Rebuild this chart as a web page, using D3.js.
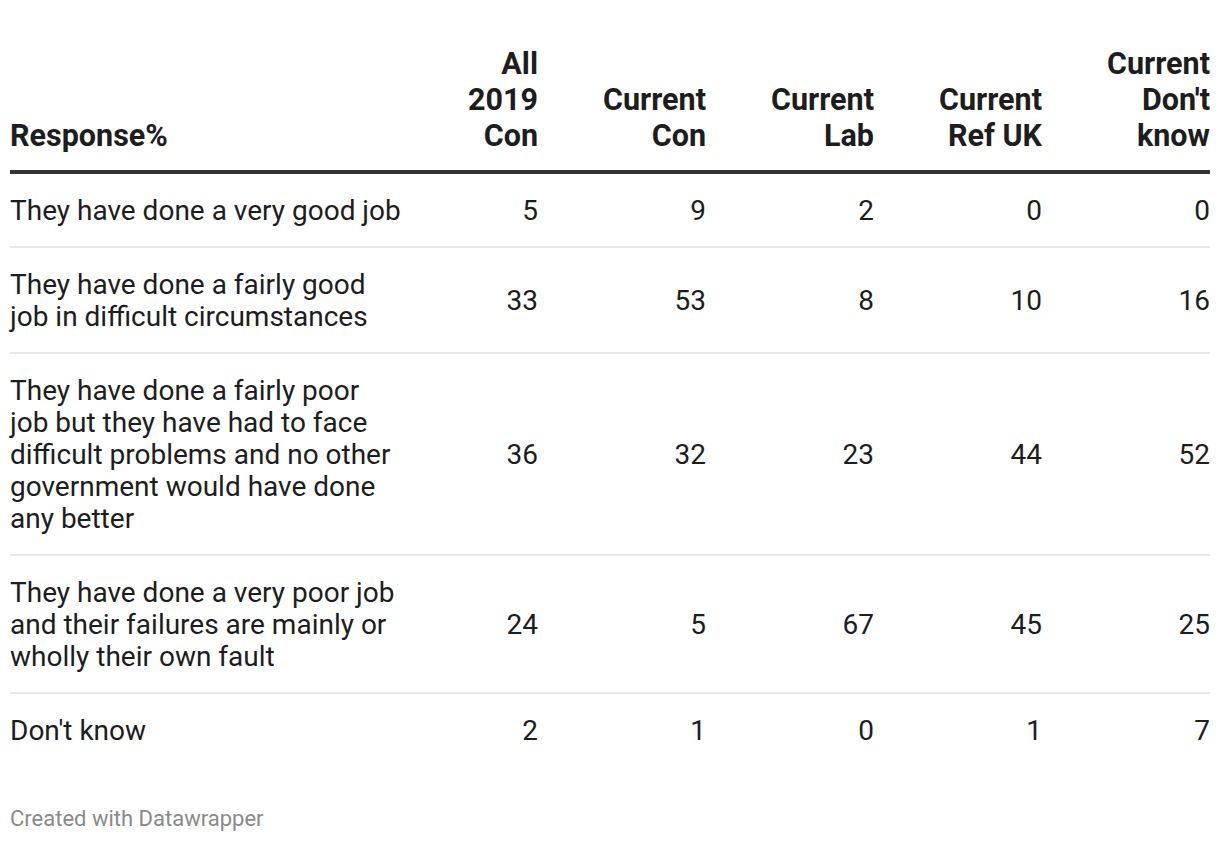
<!DOCTYPE html>
<html><head><meta charset="utf-8">
<script src="https://cdn.jsdelivr.net/npm/d3@7"></script>
<style>
html,body{margin:0;padding:0;background:#fff;}
svg{display:block;font-family:Roboto,sans-serif;}
</style></head>
<body><svg id="c" width="1220" height="842"></svg>
<script>
const columns = [["All","2019","Con"],["Current","Con"],["Current","Lab"],["Current","Ref UK"],["Current","Don't","know"]];
const headerFirst = "Response%";
const responses = [
  ["They have done a very good job"],
  ["They have done a fairly good","job in difficult circumstances"],
  ["They have done a fairly poor","job but they have had to face","difficult problems and no other","government would have done","any better"],
  ["They have done a very poor job","and their failures are mainly or","wholly their own fault"],
  ["Don't know"]
];
const all2019Con   = [5,33,36,24,2];
const currentCon   = [9,53,32,5,1];
const currentLab   = [2,8,23,67,0];
const currentRefUK = [0,10,44,45,1];
const currentDK    = [0,16,52,25,7];
const series = [all2019Con,currentCon,currentLab,currentRefUK,currentDK];
const footer = "Created with Datawrapper";

const svg = d3.select("#c");
const left = 10, right = 1210;
const x = d3.scalePoint().domain(d3.range(columns.length)).range([538, right]);
const bodyFont = 28, headFont = 30.5, lineH = 32, headLineH = 36, pad = 21;
const headBottom = 135, ruleY = 172;

// header
svg.append("text").attr("x", left).attr("y", headBottom).attr("dy","0.35em")
  .attr("font-size", headFont).attr("font-weight", 700).attr("fill","#1d1d1d").text(headerFirst);
columns.forEach((lines,i)=>{
  const t = svg.append("text").attr("text-anchor","end").attr("font-size",headFont)
    .attr("font-weight",700).attr("fill","#1d1d1d");
  lines.forEach((l,j)=>{
    t.append("tspan").attr("x", x(i)).attr("y", headBottom - (lines.length-1-j)*headLineH)
      .attr("dy","0.35em").text(l);
  });
});
svg.append("rect").attr("x",left).attr("y",ruleY-2).attr("width",right-left).attr("height",4).attr("fill","#333");

// rows
let y0 = ruleY + 2;
const rowInfo = responses.map(r => { const h = r.length*lineH + 2*pad; const o = {top:y0, h}; y0 += h; return o; });
const g = svg.append("g");
responses.forEach((lines,ri)=>{
  const {top,h} = rowInfo[ri];
  const cy = top + h/2 - 1;
  const t = g.append("text").attr("font-size",bodyFont).attr("fill","#1d1d1d");
  lines.forEach((l,j)=>{
    t.append("tspan").attr("x",left).attr("y", cy + (j-(lines.length-1)/2)*lineH).attr("dy","0.35em").text(l);
  });
  series.forEach((s,ci)=>{
    g.append("text").attr("x",x(ci)).attr("y",cy).attr("dy","0.35em").attr("text-anchor","end")
      .attr("font-size",bodyFont).attr("fill","#1d1d1d").text(s[ri]);
  });
  if (ri < responses.length-1) {
    g.append("rect").attr("x",left).attr("y",top+h-2).attr("width",right-left).attr("height",2).attr("fill","#e8e8e8");
  }
});

svg.append("text").attr("x",left).attr("y",818).attr("dy","0.35em").attr("font-size",22)
  .attr("fill","#8a8a8a").text(footer);
</script></body></html>
